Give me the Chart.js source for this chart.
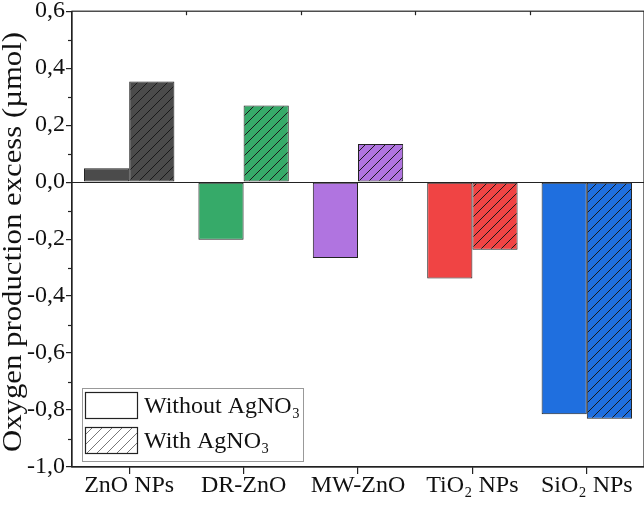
<!DOCTYPE html>
<html>
<head>
<meta charset="utf-8">
<script src="https://cdn.jsdelivr.net/npm/chart.js@4.4.0/dist/chart.umd.min.js"></script>
<style>
  html, body { margin: 0; padding: 0; background: #fff; }
  #wrap { width: 644px; height: 505px; }
</style>
</head>
<body>
<div id="wrap"><canvas id="chart"></canvas></div>
<script>
// Oxygen production excess chart

const categories = ['ZnO NPs', 'DR-ZnO', 'MW-ZnO', 'TiO₂ NPs', 'SiO₂ NPs'];
const withoutAgNO3 = [0.049, -0.202, -0.266, -0.338, -0.815];
const withAgNO3 = [0.353, 0.269, 0.134, -0.237, -0.831];
const barColors = ['#4b4b4b', '#36aa69', '#b074e0', '#f04444', '#1f6fdf'];
const seriesNames = ['Without AgNO₃', 'With AgNO₃'];
const yTicks = [-1.0, -0.8, -0.6, -0.4, -0.2, 0.0, 0.2, 0.4, 0.6];
const yTitle = 'Oxygen production excess (µmol)';

const FONT = "'Liberation Serif', 'Times New Roman', serif";
const INK = '#222';

// diagonal hatch pattern over a fill colour
function makeHatch(fill, line) {
    const c = document.createElement('canvas');
    c.width = 10; c.height = 10;
    const g = c.getContext('2d');
    g.fillStyle = fill;
    g.fillRect(0, 0, 10, 10);
    g.strokeStyle = line;
    g.lineWidth = 1;
    g.beginPath();
    g.moveTo(0, 10); g.lineTo(10, 0);
    g.moveTo(-5, 5); g.lineTo(5, -5);
    g.moveTo(5, 15); g.lineTo(15, 5);
    g.stroke();
    return g.createPattern(c, 'repeat');
}

// frame, zero line, minor ticks, axis title and legend
const decorPlugin = {
    id: 'decor',
    afterDatasetsDraw(chart) {
        const ctx = chart.ctx;
        const a = chart.chartArea;
        const y = chart.scales.y;
        ctx.save();
        ctx.strokeStyle = INK;
        ctx.lineWidth = 1.2;

        // zero line
        const y0 = Math.round(y.getPixelForValue(0)) + 0.5;
        ctx.beginPath();
        ctx.moveTo(a.left, y0); ctx.lineTo(a.right, y0);
        ctx.stroke();

        // frame
        ctx.strokeRect(a.left, a.top, a.right - a.left, a.bottom - a.top);

        // minor y ticks
        for (let i = 0; i < yTicks.length - 1; i++) {
            const v = (yTicks[i] + yTicks[i + 1]) / 2;
            const py = Math.round(y.getPixelForValue(v)) + 0.5;
            ctx.beginPath();
            ctx.moveTo(a.left, py); ctx.lineTo(a.left - 4, py);
            ctx.stroke();
        }

        // top ticks at category boundaries
        const step = (a.right - a.left) / categories.length;
        for (let i = 1; i < categories.length; i++) {
            const px = Math.round(a.left + step * i) + 0.5;
            ctx.beginPath();
            ctx.moveTo(px, a.top); ctx.lineTo(px, a.top + 4);
            ctx.stroke();
        }

        // y axis title, stretched along its length like the original
        ctx.save();
        ctx.font = '27px ' + FONT;
        const w = ctx.measureText(yTitle).width;
        ctx.translate(21, 242);
        ctx.rotate(-Math.PI / 2);
        ctx.scale(420 / w, 1);
        ctx.fillStyle = '#111';
        ctx.textAlign = 'center';
        ctx.textBaseline = 'alphabetic';
        ctx.fillText(yTitle, 0, 0);
        ctx.restore();

        // legend
        const lx = 82, ly = 388, lw = 221, lh = 73;
        ctx.fillStyle = '#fff';
        ctx.fillRect(lx, ly, lw, lh);
        ctx.strokeStyle = '#999';
        ctx.lineWidth = 1;
        ctx.strokeRect(lx + 0.5, ly + 0.5, lw, lh);

        const swatches = [
            { y: 392, fill: '#fff' },
            { y: 427, fill: makeHatch('#fff', '#777') }
        ];
        swatches.forEach((s, i) => {
            ctx.fillStyle = s.fill;
            ctx.fillRect(85, s.y, 52, 26);
            ctx.strokeStyle = INK;
            ctx.lineWidth = 1.2;
            ctx.strokeRect(85.5, s.y + 0.5, 52, 26);
            ctx.fillStyle = '#111';
            ctx.font = '24px ' + FONT;
            ctx.textBaseline = 'alphabetic';
            ctx.textAlign = 'left';
            ctx.fillText(seriesNames[i], 144, s.y + 21);
        });
        ctx.restore();
    }
};

const ctx = document.getElementById('chart').getContext('2d');

new Chart(ctx, {
    type: 'bar',
    data: {
        labels: categories,
        datasets: [
            {
                label: seriesNames[0],
                data: withoutAgNO3,
                backgroundColor: barColors,
                borderColor: INK,
                borderWidth: 1,
                borderSkipped: false
            },
            {
                label: seriesNames[1],
                data: withAgNO3,
                backgroundColor: barColors.map(c => makeHatch(c, '#1a1a1a')),
                borderColor: INK,
                borderWidth: 1,
                borderSkipped: false
            }
        ]
    },
    options: {
        responsive: true,
        maintainAspectRatio: false,
        animation: false,
        layout: { padding: { top: 0, right: 0, left: 0, bottom: 0 } },
        plugins: {
            legend: { display: false },
            tooltip: { enabled: false }
        },
        datasets: {
            bar: { barPercentage: 1.0, categoryPercentage: 0.79 }
        },
        scales: {
            x: {
                grid: {
                    offset: false,
                    drawOnChartArea: false,
                    drawTicks: true,
                    tickLength: 7,
                    color: INK,
                    lineWidth: 1.2
                },
                border: { display: true, color: INK, width: 1.2 },
                ticks: {
                    color: '#111',
                    padding: 0,
                    font: { family: FONT, size: 24, lineHeight: 1.0 },
                    maxRotation: 0,
                    autoSkip: false
                },
                afterFit(scale) { scale.height = 38; }
            },
            y: {
                min: -1.0,
                max: 0.6,
                afterBuildTicks(scale) {
                    scale.ticks = yTicks.map(v => ({ value: v }));
                },
                grid: {
                    drawOnChartArea: false,
                    drawTicks: true,
                    tickLength: 6,
                    color: INK,
                    lineWidth: 1.2
                },
                border: { display: true, color: INK, width: 1.2 },
                ticks: {
                    color: '#111',
                    padding: 1,
                    font: { family: FONT, size: 24, lineHeight: 0.85 },
                    callback: v => v.toFixed(1).replace('.', ',')
                },
                afterFit(scale) { scale.width = 72; }
            }
        }
    },
    plugins: [decorPlugin]
});
</script>
</body>
</html>
